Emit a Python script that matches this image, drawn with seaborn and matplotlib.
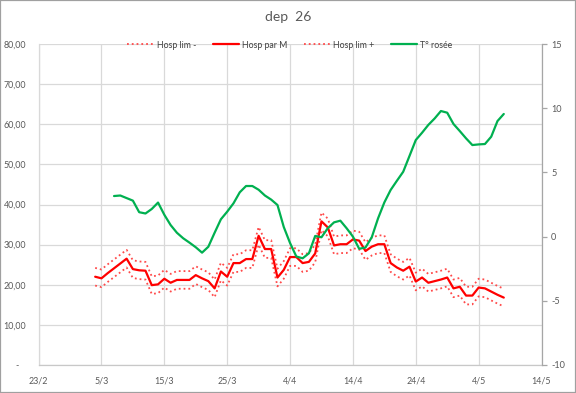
import matplotlib
matplotlib.use("Agg")
import matplotlib.pyplot as plt
import seaborn as sns
import pandas as pd
from matplotlib.patches import Rectangle

# ---------------- data ----------------
title = "dep  26"
hosp_start = "2021-03-04"
dew_start = "2021-03-07"

hosp_par_m = [22.0, 21.6, 22.9, 24.1, 25.3, 26.5, 23.9, 23.6, 23.5, 19.9,
              20.1, 21.5, 20.5, 21.2, 21.2, 21.2, 22.4, 21.6, 20.9, 19.1,
              23.3, 22.0, 25.4, 25.4, 26.4, 26.4, 32.2, 28.9, 28.9, 21.8,
              23.7, 26.9, 26.9, 25.4, 25.7, 27.8, 35.8, 34.3, 29.8, 30.1,
              30.1, 31.3, 31.0, 28.4, 29.5, 30.1, 30.1, 25.4, 24.3, 23.5,
              24.5, 20.8, 21.8, 20.5, 20.9, 21.3, 21.8, 19.1, 19.5, 17.3,
              17.3, 19.3, 19.1, 18.3, 17.5, 16.8]

hosp_lim_plus = [24.2, 23.8, 25.1, 26.3, 27.5, 28.7, 26.1, 25.8, 25.7, 22.1,
                 22.3, 23.7, 22.7, 23.4, 23.4, 23.4, 24.6, 23.8, 23.1, 21.3,
                 25.5, 24.2, 27.6, 27.6, 28.6, 28.6, 34.4, 31.1, 31.1, 24.0,
                 25.9, 29.1, 29.1, 27.6, 27.9, 30.0, 38.0, 36.5, 32.0, 32.3,
                 32.3, 33.5, 33.2, 30.6, 31.7, 32.3, 32.3, 27.6, 26.5, 25.7,
                 26.7, 23.0, 24.0, 22.7, 23.1, 23.5, 24.0, 21.3, 21.7, 19.5,
                 19.5, 21.5, 21.3, 20.5, 19.7, 19.0]

hosp_lim_minus = [19.8, 19.4, 20.7, 21.9, 23.1, 24.3, 21.7, 21.4, 21.3, 17.7,
                  17.9, 19.3, 18.3, 19.0, 19.0, 19.0, 20.2, 19.4, 18.7, 16.9,
                  21.1, 19.8, 23.2, 23.2, 24.2, 24.2, 30.0, 26.7, 26.7, 19.6,
                  21.5, 24.7, 24.7, 23.2, 23.5, 25.6, 33.6, 32.1, 27.6, 27.9,
                  27.9, 29.1, 28.8, 26.2, 27.3, 27.9, 27.9, 23.2, 22.1, 21.3,
                  22.3, 18.6, 19.6, 18.3, 18.7, 19.1, 19.6, 16.9, 17.3, 15.1,
                  15.1, 17.1, 16.9, 16.1, 15.3, 14.6]

dew_point = [3.16, 3.2, 3.0, 2.8, 1.9, 1.8, 2.15, 2.65, 1.7, 0.9,
             0.3, -0.13, -0.47, -0.83, -1.25, -0.79, 0.3, 1.35, 1.94, 2.59,
             3.45, 3.94, 3.94, 3.65, 3.2, 2.88, 2.46, 0.75, -0.5, -1.55,
             -1.69, -1.3, 0.05, -0.05, 0.65, 1.11, 1.24, 0.65, 0.0, -0.95,
             -0.85, -0.05, 1.42, 2.66, 3.63, 4.35, 5.05, 6.28, 7.52, 8.09,
             8.7, 9.2, 9.78, 9.65, 8.77, 8.22, 7.65, 7.13, 7.18, 7.21,
             7.78, 9.0, 9.55]

series_labels = ["Hosp lim -", "Hosp par M", "Hosp lim +", "T° rosée"]

x_tick_dates = ["2021-02-23", "2021-03-05", "2021-03-15", "2021-03-25",
                "2021-04-04", "2021-04-14", "2021-04-24", "2021-05-04",
                "2021-05-14"]
x_tick_labels = ["23/2", "5/3", "15/3", "25/3", "4/4", "14/4", "24/4", "4/5", "14/5"]

left_ticks = [0, 10, 20, 30, 40, 50, 60, 70, 80]
left_tick_labels = ["-   ", "10,00", "20,00", "30,00", "40,00", "50,00",
                    "60,00", "70,00", "80,00"]
right_ticks = [-10, -5, 0, 5, 10, 15]
right_tick_labels = ["-10", "-5", "0", "5", "10", "15"]

# ---------------- frames ----------------
df_h = pd.DataFrame({
    "date": pd.date_range(hosp_start, periods=len(hosp_par_m), freq="D"),
    "m": hosp_par_m,
    "lo": hosp_lim_minus,
    "hi": hosp_lim_plus,
})
df_d = pd.DataFrame({
    "date": pd.date_range(dew_start, periods=len(dew_point), freq="D"),
    "t": dew_point,
})

# ---------------- style ----------------
sns.set_style("white")
plt.rcParams["font.family"] = ["Lato", "DejaVu Sans"]

TXT = "#595959"
LEG = "#404040"
RED = "#FF0000"
RED_DOT = "#FF4A4A"
GREEN = "#00B050"
GRID = "#D9D9D9"

W, H = 576, 393
fig = plt.figure(figsize=(W / 100, H / 100), dpi=100)
L, R, T, B = 38.6, 541.5, 44, 365
ax = fig.add_axes([L / W, 1 - B / H, (R - L) / W, (B - T) / H])
ax2 = ax.twinx()

sns.lineplot(data=df_h, x="date", y="lo", ax=ax, color=RED_DOT, lw=1.3,
             linestyle=":", label=series_labels[0], legend=False)
sns.lineplot(data=df_h, x="date", y="m", ax=ax, color=RED, lw=1.6,
             label=series_labels[1], legend=False)
sns.lineplot(data=df_h, x="date", y="hi", ax=ax, color=RED_DOT, lw=1.3,
             linestyle=":", label=series_labels[2], legend=False)
sns.lineplot(data=df_d, x="date", y="t", ax=ax2, color=GREEN, lw=1.6,
             label=series_labels[3], legend=False)

# axes limits / ticks
ax.set_xlim(pd.Timestamp(x_tick_dates[0]), pd.Timestamp(x_tick_dates[-1]))
ax.set_ylim(0, 80)
ax2.set_ylim(-10, 15)
ax.set_xticks([pd.Timestamp(d) for d in x_tick_dates])
ax.set_xticklabels(x_tick_labels)
ax.set_yticks(left_ticks)
ax.set_yticklabels(left_tick_labels)
ax2.set_yticks(right_ticks)
ax2.set_yticklabels(right_tick_labels)
for a in (ax, ax2):
    a.set_xlabel("")
    a.set_ylabel("")

ax.grid(True, color=GRID, lw=0.9)
ax.set_axisbelow(True)

ax.tick_params(axis="both", length=0, labelsize=6.4, labelcolor=TXT)
ax.tick_params(axis="y", pad=9)
ax.tick_params(axis="x", pad=8)
ax2.tick_params(axis="y", length=3.5, width=0.9, color="#A6A6A6",
                labelsize=6.6, labelcolor=TXT, pad=3.5)

for s in ("top", "right"):
    ax.spines[s].set_visible(False)
ax.spines["left"].set_color(GRID)
ax.spines["bottom"].set_color("#C8C8C8")
for s in ("top", "left", "bottom"):
    ax2.spines[s].set_visible(False)
ax2.spines["right"].set_color("#A6A6A6")
ax2.spines["right"].set_linewidth(0.9)
for sp in ax.spines.values():
    sp.set_linewidth(0.9)

# title
fig.text(288 / W, 1 - 17 / H, title, ha="center", va="center",
         fontsize=10, color=TXT)

# legend
h1, l1 = ax.get_legend_handles_labels()
h2, l2 = ax2.get_legend_handles_labels()
fig.legend(h1 + h2, l1 + l2, loc="center", bbox_to_anchor=(290 / W, 1 - 45 / H),
           ncol=4, frameon=False, fontsize=6.3, labelcolor=LEG,
           handlelength=3.0, handletextpad=0.35, columnspacing=1.9,
           borderaxespad=0)

# chart border
fig.add_artist(Rectangle((0, 0), 1, 1, transform=fig.transFigure, fill=False,
                         edgecolor="#A0A0A0", lw=1.6))

fig.savefig("out.png", dpi=100)
